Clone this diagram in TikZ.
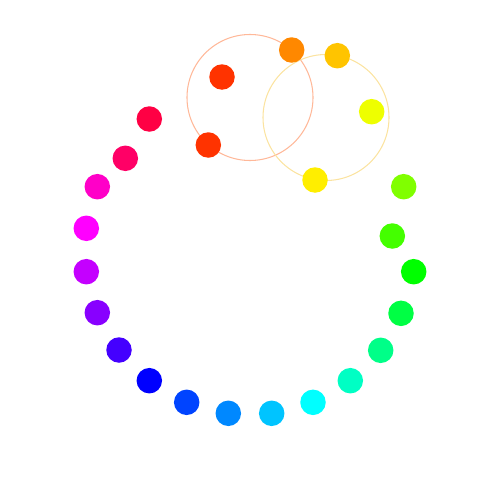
\documentclass[tikz,border=0pt]{standalone}
\usepackage{xcolor}

\definecolor{dotA}{HTML}{FF0044}
\definecolor{dotB}{HTML}{FF0066}
\definecolor{dotC}{HTML}{FF00C8}
\definecolor{dotD}{HTML}{FF00FF}
\definecolor{dotE}{HTML}{C400FF}
\definecolor{dotF}{HTML}{8800FF}
\definecolor{dotG}{HTML}{4400FF}
\definecolor{dotH}{HTML}{0000FF}
\definecolor{dotI}{HTML}{0044FF}
\definecolor{dotJ}{HTML}{0088FF}
\definecolor{dotK}{HTML}{00C4FF}
\definecolor{dotL}{HTML}{00FFFF}
\definecolor{dotM}{HTML}{00FFC4}
\definecolor{dotN}{HTML}{00FF88}
\definecolor{dotO}{HTML}{00FF44}
\definecolor{dotP}{HTML}{00FF00}
\definecolor{dotQ}{HTML}{44FF00}
\definecolor{dotR}{HTML}{80FF00}
\definecolor{dotS}{HTML}{EEFF00}
\definecolor{dotT}{HTML}{FFEE00}
\definecolor{dotU}{HTML}{FFC400}
\definecolor{dotV}{HTML}{FF8800}
\definecolor{dotW}{HTML}{FF3300}
\definecolor{orbitRed}{HTML}{FFB899}
\definecolor{orbitYellow}{HTML}{FBE3A0}

\begin{document}
\begin{tikzpicture}[
    x=0.2mm, y=-0.2mm,
    dot/.style={
        circle, minimum size=5.1mm, inner sep=0pt, draw=none
    },
    orbit/.style={
        circle, draw, minimum size=25.2mm, inner sep=0pt, line width=0.6pt
    }
]

% ==================== FRAME ====================
\useasboundingbox (0,0) rectangle (500,500);

% ==================== ORBITS ====================
\node[orbit, draw=orbitRed] (orbitleft) at (250,97.5) {};
\node[orbit, draw=orbitYellow] (orbitright) at (326,117.5) {};

% ==================== RING (left, going down) ====================
\node[dot, fill=dotA] (ringA) at (149.3,119) {};
\node[dot, fill=dotB] (ringB) at (125.3,158.3) {};
\node[dot, fill=dotC] (ringC) at (97.3,186.7) {};
\node[dot, fill=dotD] (ringD) at (86.3,228.3) {};
\node[dot, fill=dotE] (ringE) at (86.3,271.7) {};
\node[dot, fill=dotF] (ringF) at (97.3,312.7) {};
\node[dot, fill=dotG] (ringG) at (119,350) {};
\node[dot, fill=dotH] (ringH) at (149.3,380.7) {};

% ==================== RING (bottom) ====================
\node[dot, fill=dotI] (ringI) at (186.7,402.3) {};
\node[dot, fill=dotJ] (ringJ) at (228.3,413.3) {};
\node[dot, fill=dotK] (ringK) at (271.7,413.3) {};
\node[dot, fill=dotL] (ringL) at (313,402.3) {};

% ==================== RING (right, going up) ====================
\node[dot, fill=dotM] (ringM) at (350.3,380.7) {};
\node[dot, fill=dotN] (ringN) at (380.7,350.3) {};
\node[dot, fill=dotO] (ringO) at (401,313.3) {};
\node[dot, fill=dotP] (ringP) at (413.7,271.7) {};
\node[dot, fill=dotQ] (ringQ) at (392.3,236) {};
\node[dot, fill=dotR] (ringR) at (403.7,186.7) {};

% ==================== LOOSE DOTS (top) ====================
\node[dot, fill=dotT] (looseT) at (315,180) {};
\node[dot, fill=dotS] (looseS) at (371.7,111.7) {};
\node[dot, fill=dotU] (looseU) at (337.3,55.7) {};
\node[dot, fill=dotV] (looseV) at (291.7,50) {};
\node[dot, fill=dotW] (looseW) at (222,77) {};
\node[dot, fill=dotW] (looseX) at (208.3,145) {};

\end{tikzpicture}
\end{document}
